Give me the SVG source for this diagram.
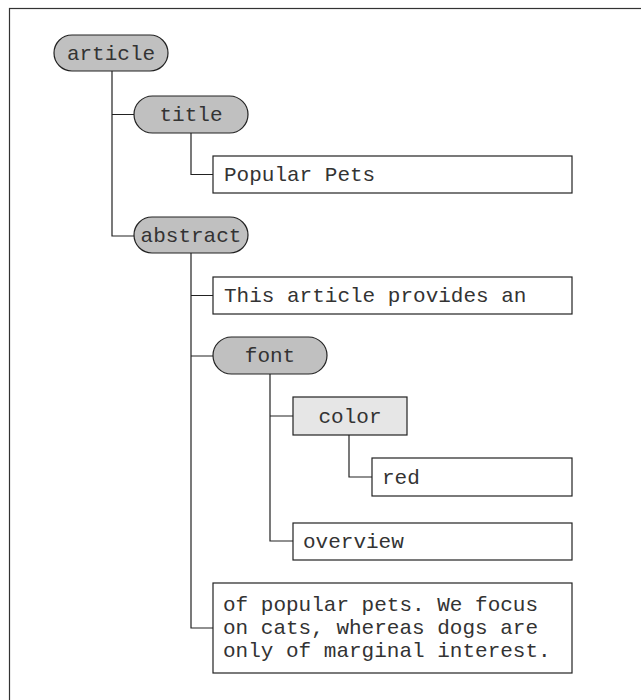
<svg xmlns="http://www.w3.org/2000/svg" width="641" height="700" viewBox="0 0 641 700">
<style>
.pill{fill:#c0c0c0;stroke:#222;stroke-width:1.2}
.box{fill:#fff;stroke:#222;stroke-width:1.2}
.abox{fill:#e6e6e6;stroke:#222;stroke-width:1.2}
.t{font-family:"Liberation Mono","Courier New",monospace;font-size:21px;fill:#333}
.c{text-anchor:middle}
.conn{fill:none;stroke:#222;stroke-width:1.2}
</style>
<rect x="0" y="0" width="641" height="700" fill="#fff"/>
<rect x="9.5" y="8.5" width="700" height="750" fill="none" stroke="#333" stroke-width="1.2"/>
<g id="connectors">
<path class="conn" d="M112 71V236H134M112 114.5H134"/>
<path class="conn" d="M191 133V174.5H213"/>
<path class="conn" d="M191 253V628H213M191 295.5H213M191 356H213"/>
<path class="conn" d="M270 374V541H293M270 416H293"/>
<path class="conn" d="M349 435V477H372"/>
</g>
<g id="article"><rect class="pill" x="54" y="35" width="114" height="36" rx="18"/><text class="t c" x="111" y="60">article</text></g>
<g id="title"><rect class="pill" x="134" y="96" width="114" height="37" rx="18.5"/><text class="t c" x="191" y="121">title</text></g>
<g id="popular-pets"><rect class="box" x="213" y="156" width="359" height="37"/><text class="t" x="224" y="181">Popular Pets</text></g>
<g id="abstract"><rect class="pill" x="134" y="217" width="114" height="36" rx="18"/><text class="t c" x="191" y="242">abstract</text></g>
<g id="text1"><rect class="box" x="213" y="277" width="359" height="37"/><text class="t" x="224" y="302">This article provides an</text></g>
<g id="font"><rect class="pill" x="213" y="337" width="114" height="37" rx="18.5"/><text class="t c" x="270" y="362">font</text></g>
<g id="color"><rect class="abox" x="293" y="397" width="114" height="38"/><text class="t c" x="350" y="423">color</text></g>
<g id="red"><rect class="box" x="372" y="458" width="200" height="38"/><text class="t" x="382" y="484">red</text></g>
<g id="overview"><rect class="box" x="293" y="523" width="279" height="37"/><text class="t" x="303" y="548">overview</text></g>
<g id="text2"><rect class="box" x="213" y="583" width="359" height="90"/><text class="t" x="223" y="611">of popular pets. We focus</text><text class="t" x="223" y="634">on cats, whereas dogs are</text><text class="t" x="223" y="657">only of marginal interest.</text></g>
</svg>
